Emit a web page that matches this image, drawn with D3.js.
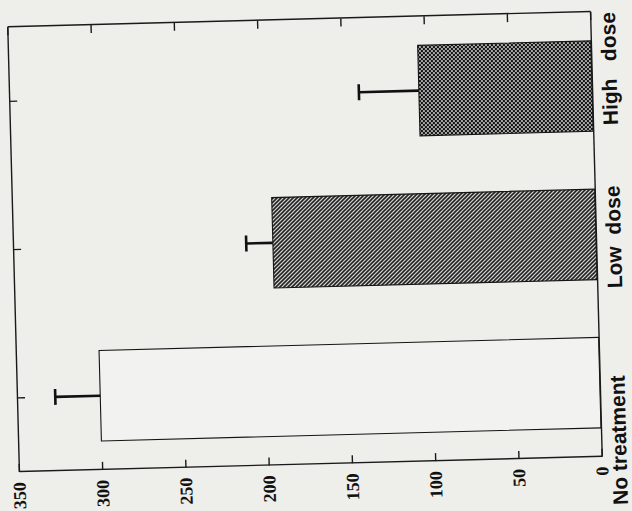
<!DOCTYPE html>
<html>
<head>
<meta charset="utf-8">
<script src="https://cdn.jsdelivr.net/npm/d3@7"></script>
<style>
  html, body { margin: 0; padding: 0; background: #eeeeeb; }
  svg { display: block; }
</style>
</head>
<body>
<svg id="chart" width="632" height="511"></svg>
<script>
// Treatment groups (left to right on the category axis)
const categories = ["No treatment", "Low dose", "High dose"];
// Displayed category labels (wide word gaps as printed)
const categoryLabels = ["No treatment", "Low  dose", "High   dose"];
// Mean response per group and the upper error (SEM)
const means = [300, 194, 104];
const errors = [27, 16, 36];
// Value axis ticks
const yTicks = [0, 50, 100, 150, 200, 250, 300, 350];
const yMax = 350;

const svg = d3.select("#chart");
const SW = 632, SH = 511;
svg.append("rect").attr("width", SW).attr("height", SH).attr("fill", "#eeeeeb");

// Plot frame, laid out as an ordinary vertical bar chart, then turned on its side
const W = 445;   // category extent
const H = 583;   // value extent
const tilt = -91.5;
const cx = 304.5, cy = 242;

const defs = svg.append("defs");
// fine diagonal hatching, kept aligned with the page
const hatch = defs.append("pattern")
  .attr("id", "hatch")
  .attr("patternUnits", "userSpaceOnUse")
  .attr("width", 4).attr("height", 4)
  .attr("patternTransform", `rotate(${-tilt})`);
hatch.append("rect").attr("width", 4).attr("height", 4).attr("fill", "#e4e4e2");
hatch.append("path")
  .attr("d", "M0,4 L4,0 M-1,1 L1,-1 M3,5 L5,3")
  .attr("stroke", "#1a1a1a").attr("stroke-width", 1.6);

// fine checkerboard
const checker = defs.append("pattern")
  .attr("id", "checker")
  .attr("patternUnits", "userSpaceOnUse")
  .attr("width", 4).attr("height", 4)
  .attr("patternTransform", `rotate(${-tilt})`);
checker.append("rect").attr("width", 4).attr("height", 4).attr("fill", "#a9a9a9");
checker.append("rect").attr("width", 2).attr("height", 2).attr("fill", "#111");
checker.append("rect").attr("x", 2).attr("y", 2).attr("width", 2).attr("height", 2).attr("fill", "#111");

const fills = ["#f2f2f0", "url(#hatch)", "url(#checker)"];

const g = svg.append("g")
  .attr("transform", `translate(${cx},${cy}) rotate(${tilt}) translate(${-W / 2},${-H / 2})`);

const x = d3.scaleBand().domain(categories).range([0, W])
  .paddingInner(0.39).paddingOuter(0.195);
const y = d3.scaleLinear().domain([0, yMax]).range([H, 0]);

// bars
g.selectAll("rect.bar")
  .data(categories)
  .join("rect")
  .attr("class", "bar")
  .attr("x", d => x(d))
  .attr("width", x.bandwidth())
  .attr("y", (d, i) => y(means[i]))
  .attr("height", (d, i) => y(0) - y(means[i]))
  .attr("fill", (d, i) => fills[i])
  .attr("stroke", "#151515")
  .attr("stroke-width", 1.1);

// upper error whiskers
const capHalf = 8;
const err = g.selectAll("g.err")
  .data(categories)
  .join("g")
  .attr("class", "err");
err.append("line")
  .attr("x1", d => x(d) + x.bandwidth() / 2)
  .attr("x2", d => x(d) + x.bandwidth() / 2)
  .attr("y1", (d, i) => y(means[i]))
  .attr("y2", (d, i) => y(means[i] + errors[i]))
  .attr("stroke", "#111").attr("stroke-width", 2.6);
err.append("line")
  .attr("x1", d => x(d) + x.bandwidth() / 2 - capHalf)
  .attr("x2", d => x(d) + x.bandwidth() / 2 + capHalf)
  .attr("y1", (d, i) => y(means[i] + errors[i]))
  .attr("y2", (d, i) => y(means[i] + errors[i]))
  .attr("stroke", "#111").attr("stroke-width", 2.6);

// value axis with inward ticks
const yAxis = g.append("g")
  .call(d3.axisLeft(y).tickValues(yTicks).tickSizeInner(-8).tickSizeOuter(0).tickPadding(10));
yAxis.selectAll("text")
  .attr("font-family", "'Liberation Serif', 'Times New Roman', serif")
  .attr("font-weight", "bold")
  .attr("font-size", 18)
  .attr("fill", "#111");

// mirrored value ticks on the opposite side
g.append("g")
  .attr("transform", `translate(${W},0)`)
  .call(d3.axisRight(y).tickValues(yTicks).tickSizeInner(-8).tickSizeOuter(0).tickFormat(""));

// category ticks on the far side
g.append("g")
  .call(d3.axisTop(x).tickSizeInner(-8).tickSizeOuter(0).tickFormat(""));

// category axis and labels (hand-placed along the axis as typeset)
const labelShift = [-58, -3, 17];
const xAxis = g.append("g")
  .attr("transform", `translate(0,${H})`)
  .call(d3.axisBottom(x).tickSize(0).tickPadding(10).tickFormat((d, i) => categoryLabels[i]));
xAxis.selectAll("text")
  .attr("x", (d, i) => labelShift[i])
  .attr("font-family", "'Liberation Sans', Arial, sans-serif")
  .attr("font-weight", "bold")
  .attr("font-size", 21)
  .attr("fill", "#111")
  .style("white-space", "pre");

g.selectAll(".domain, .tick line")
  .attr("stroke", "#1a1a1a")
  .attr("stroke-width", 1.4);
</script>
</body>
</html>
